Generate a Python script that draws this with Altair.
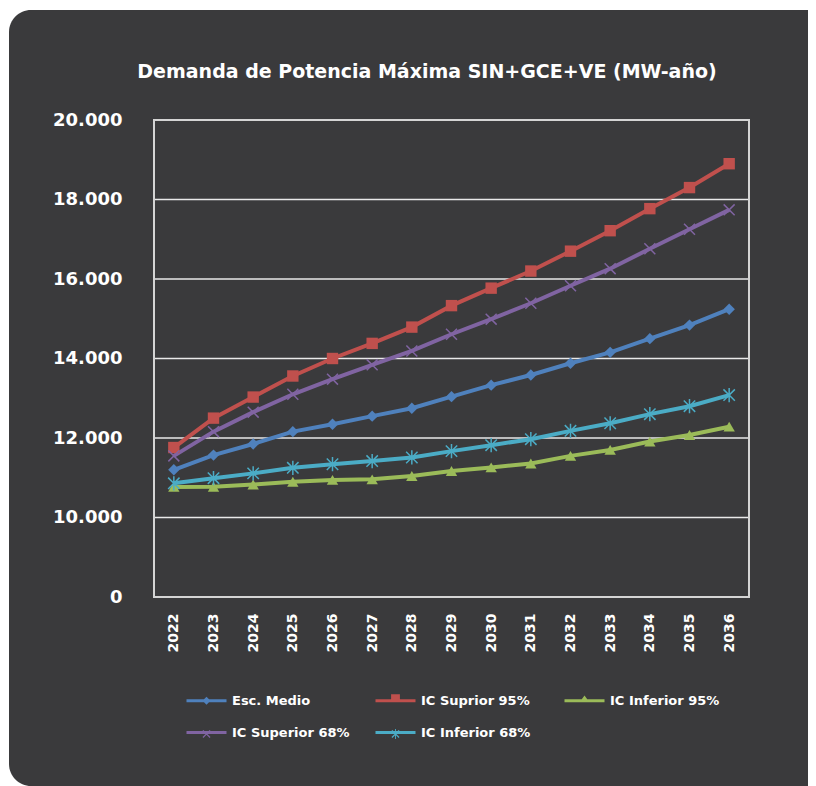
import altair as alt
import pandas as pd

# ---------------- data ----------------
years = [str(y) for y in range(2022, 2037)]
series_names = ["Esc. Medio", "IC Suprior 95%", "IC Inferior 95%", "IC Superior 68%", "IC Inferior 68%"]
esc_medio = [11200, 11570, 11850, 12160, 12345, 12550, 12750, 13040, 13330, 13585, 13880, 14155, 14500, 14840, 15240]
ic_sup_95 = [11760, 12500, 13030, 13560, 14000, 14380, 14790, 15330, 15770, 16200, 16700, 17215, 17770, 18300, 18900]
ic_inf_95 = [10770, 10775, 10830, 10900, 10945, 10960, 11045, 11170, 11260, 11360, 11550, 11700, 11910, 12075, 12285]
ic_sup_68 = [11550, 12160, 12650, 13100, 13480, 13840, 14190, 14610, 14990, 15390, 15830, 16260, 16760, 17250, 17740]
ic_inf_68 = [10860, 10990, 11110, 11250, 11340, 11420, 11510, 11670, 11820, 11970, 12180, 12370, 12600, 12800, 13080]
y_tick_values = [8000, 10000, 12000, 14000, 16000, 18000, 20000]
title_text = "Demanda de Potencia Máxima SIN+GCE+VE (MW-año)"

colors = ["#4F81BD", "#C0504D", "#9BBB59", "#8064A2", "#4BACC6"]
BG = "#3a3a3c"
FONT = "DejaVu Sans"

all_values = [esc_medio, ic_sup_95, ic_inf_95, ic_sup_68, ic_inf_68]
rows = []
for name, vals in zip(series_names, all_values):
    for yr, v in zip(years, vals):
        rows.append({"year": yr, "series": name, "value": v})
df = pd.DataFrame(rows)
ticks_df = pd.DataFrame({"value": y_tick_values})

W, H = 595, 477

# ---------------- marker shapes ----------------
X_PATH = "M-1,-1L1,1M-1,1L1,-1"
AST_PATH = "M-1,-1L1,1M-1,1L1,-1M0,-1.25L0,1.25"


def poly(pts):
    return "M" + "L".join(f"{x:.2f},{y:.2f}" for x, y in pts) + "Z"


def legend_path(kind):
    cx = 4.0
    t = 0.22
    bar = poly([(-1, -0.4), (9, -0.4), (9, 0.4), (-1, 0.4)])
    if kind == "diamond":
        m = poly([(cx, -1), (cx + 1, 0), (cx, 1), (cx - 1, 0)])
    elif kind == "square":
        m = poly([(cx - 1.1, -1.6), (cx + 1.1, -1.6), (cx + 1.1, 0.4), (cx - 1.1, 0.4)])
    elif kind == "triangle":
        m = poly([(cx, -1.3), (cx + 1.1, 0.2), (cx - 1.1, 0.2)])
    else:
        cy = 0.35
        a1 = poly([(cx - 1, cy - 1 + t), (cx - 1 + t, cy - 1), (cx + 1, cy + 1 - t), (cx + 1 - t, cy + 1)])
        a2 = poly([(cx + 1 - t, cy - 1), (cx + 1, cy - 1 + t), (cx - 1 + t, cy + 1), (cx - 1, cy + 1 - t)])
        m = a1 + a2
        if kind == "asterisk":
            m += poly([(cx - t / 2, cy - 1.25), (cx + t / 2, cy - 1.25), (cx + t / 2, cy + 1.25), (cx - t / 2, cy + 1.25)])
    return bar + m


legend_shapes = [legend_path(k) for k in ["diamond", "square", "triangle", "x", "asterisk"]]

color_scale = alt.Scale(domain=series_names, range=colors)
x_enc = alt.X(
    "year:O",
    scale=alt.Scale(type="point", padding=0.5),
    axis=alt.Axis(
        title=None, labelAngle=-90, domain=False, ticks=False, grid=False,
        labelPadding=16, labelFont=FONT, labelFontSize=14, labelFontWeight="bold",
        labelColor="white", zindex=1,
    ),
)
y_scale = alt.Scale(domain=[8000, 20000], nice=False, zero=False)
y_enc = alt.Y(
    "value:Q",
    scale=y_scale,
    axis=alt.Axis(
        title=None, values=y_tick_values, domain=False, ticks=False, grid=False,
        labelExpr="datum.value == 8000 ? '0' : replace(format(datum.value, ','), ',', '.')",
        labelPadding=32, labelFont=FONT, labelFontSize=18, labelFontWeight="bold",
        labelColor="white", zindex=1,
    ),
)

# background rounded panel (decoration)
panel = alt.Chart(pd.DataFrame({"k": [0]})).mark_rect(
    color=BG, cornerRadiusTopLeft=22, cornerRadiusBottomLeft=22
).encode(
    x=alt.value(-145), x2=alt.value(654), y=alt.value(-110), y2=alt.value(666)
)

frame = alt.Chart(pd.DataFrame({"k": [0]})).mark_rect(
    fill=None, filled=False, stroke="#d4d4d4", strokeWidth=2
).encode(
    x=alt.value(0), x2=alt.value(W), y=alt.value(0), y2=alt.value(H)
)

title = alt.Chart(pd.DataFrame({"t": [title_text]})).mark_text(
    font=FONT, fontSize=19, fontWeight="bold", color="white", align="center", baseline="middle"
).encode(text="t:N", x=alt.value(273), y=alt.value(-48))

grid = alt.Chart(ticks_df).mark_rule(color="#e9e9e9", strokeWidth=1.5).encode(
    y=alt.Y("value:Q", scale=y_scale)
)

base = alt.Chart(df)

line_layers = []
for i, (name, col) in enumerate(zip(series_names, colors)):
    enc_x = x_enc if i == 0 else alt.X("year:O")
    enc_y = y_enc if i == 0 else alt.Y("value:Q")
    line_layers.append(
        base.transform_filter(alt.datum.series == name)
        .mark_line(strokeWidth=4, color=col)
        .encode(x=enc_x, y=enc_y)
    )

marker_specs = [
    ("Esc. Medio", dict(shape="diamond", filled=True, size=130)),
    ("IC Suprior 95%", dict(shape="square", filled=True, size=130)),
    ("IC Inferior 95%", dict(shape="triangle-up", filled=True, size=130)),
    ("IC Superior 68%", dict(shape=X_PATH, filled=False, size=120, strokeWidth=1.5)),
    ("IC Inferior 68%", dict(shape=AST_PATH, filled=False, size=130, strokeWidth=1.5)),
]
point_layers = []
for (name, spec), col in zip(marker_specs, colors):
    point_layers.append(
        base.transform_filter(alt.datum.series == name)
        .mark_point(color=col, opacity=1, **spec)
        .encode(x="year:O", y="value:Q")
    )

legend_layer = base.transform_filter("false").mark_point(
    filled=True, opacity=1, size=64, strokeWidth=0
).encode(
    x="year:O", y="value:Q",
    color=alt.Color(
        "series:N", scale=color_scale,
        legend=alt.Legend(
            title=None, orient="none", legendX=30, legendY=574, columns=3,
            direction="horizontal",
            gridAlign="all", columnPadding=23, rowPadding=18,
            labelFont=FONT, labelFontSize=13, labelFontWeight="bold", labelColor="white",
            labelOffset=35, symbolSize=64, symbolStrokeWidth=0, symbolOpacity=1,
            labelLimit=300,
        ),
    ),
    shape=alt.Shape(
        "series:N", scale=alt.Scale(domain=series_names, range=legend_shapes),
        legend=alt.Legend(title=None),
    ),
)

chart = alt.layer(
    panel, title, grid, *line_layers, *point_layers, legend_layer, frame
).properties(
    width=W, height=H,
    padding={"left": 1, "top": 2, "right": 0, "bottom": 0},
    background="white",
).configure_view(
    stroke=None, fill=None
)

chart.save("out.html", embed_options={"renderer": "svg", "actions": False})
